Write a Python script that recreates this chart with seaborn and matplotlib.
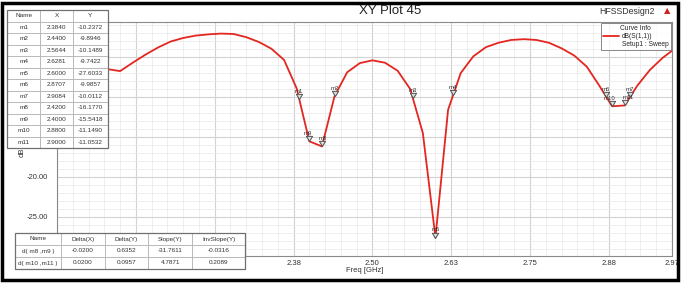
import pandas as pd
import matplotlib
matplotlib.use("Agg")
import matplotlib.pyplot as plt
import seaborn as sns
from matplotlib.path import Path
from matplotlib.lines import Line2D
from matplotlib.patches import Rectangle
from matplotlib.ticker import MultipleLocator, FormatStrFormatter

# sweep points (GHz) and dB(S(1,1))
freq = [2.00, 2.02, 2.04, 2.06, 2.08, 2.10, 2.12, 2.14, 2.16, 2.18,
        2.20, 2.22, 2.24, 2.26, 2.28, 2.30, 2.32, 2.34, 2.36, 2.38,
        2.40, 2.42, 2.44, 2.46, 2.48, 2.50, 2.52, 2.54, 2.56, 2.58,
        2.60, 2.62, 2.64, 2.66, 2.68, 2.70, 2.72, 2.74, 2.76, 2.78,
        2.80, 2.82, 2.84, 2.86, 2.88, 2.90, 2.92, 2.94, 2.96, 2.98]
s11 = [-6.0, -6.1, -6.3, -6.4, -6.5, -6.75, -5.7, -4.7, -3.8, -3.05,
       -2.6, -2.3, -2.15, -2.05, -2.1, -2.5, -3.1, -3.95, -5.35, -8.92,
       -15.54, -16.18, -9.89, -6.9, -5.75, -5.4, -5.7, -6.7, -9.0, -14.5,
       -27.6, -11.6, -7.0, -4.9, -3.75, -3.2, -2.85, -2.75, -2.85, -3.2,
       -3.9, -4.8, -6.2, -8.6, -11.15, -11.05, -8.57, -6.6, -5.1, -3.9]

# marker table
marker_names = ["m1", "m2", "m3", "m4", "m5", "m6", "m7", "m8", "m9", "m10", "m11"]
marker_x = [2.3840, 2.4400, 2.5644, 2.6281, 2.6000, 2.8707, 2.9084, 2.4200, 2.4000, 2.8800, 2.9000]
marker_y = [-10.2372, -9.8946, -10.1489, -9.7422, -27.6033, -9.9857, -10.0112,
            -16.1770, -15.5418, -11.1490, -11.0532]

# delta marker table
delta_names = ["d( m8 ,m9 )", "d( m10 ,m11 )"]
delta_x = [-0.0200, 0.0200]
delta_y = [0.6352, 0.0957]
slope_y = [-31.7611, 4.7871]
inv_slope_y = [-0.0316, 0.2089]

x_ticks = [2.0, 2.125, 2.25, 2.375, 2.5, 2.625, 2.75, 2.875, 2.975]
x_tick_labels = ["2.00", "2.13", "2.25", "2.38", "2.50", "2.63", "2.75", "2.88", "2.97"]

sns.set_style("white")
plt.rcParams["font.family"] = ["Liberation Sans", "DejaVu Sans"]

W, H = 681, 284
fig = plt.figure(figsize=(W / 100, H / 100), dpi=100)
ax = fig.add_axes([57 / W, 1 - 256 / H, 615 / W, 234 / H])

df = pd.DataFrame({"freq": freq, "s11": s11})
red = "#e3261f"
sns.lineplot(data=df, x="freq", y="s11", ax=ax, color=red, lw=1.3,
             sort=False, estimator=None)

# marker triangles with the tip on the point
tri = Path([(-0.6, 1.0), (0.6, 1.0), (0.0, 0.0), (-0.6, 1.0)],
           [Path.MOVETO, Path.LINETO, Path.LINETO, Path.CLOSEPOLY])
mk = pd.DataFrame({"x": marker_x, "y": marker_y, "name": marker_names})
sns.scatterplot(data=mk, x="x", y="y", ax=ax, marker=tri, s=55,
                color="#dcdcdc", edgecolor="#505050", linewidth=0.7, zorder=5)
label_dx = {"m10": -2.2, "m11": 2.6, "m9": -1, "m8": 1}
for name, mx, my in zip(marker_names, marker_x, marker_y):
    ax.annotate(name, (mx, my), xytext=(label_dx.get(name, 0), 3.8),
                textcoords="offset points", ha="center", va="bottom",
                fontsize=4.3, color="#333333", zorder=6)

ax.set_xlim(2.0, 2.975)
ax.set_ylim(-29.9, -0.6)
ax.set_xticks(x_ticks)
ax.set_xticklabels(x_tick_labels)
ax.xaxis.set_minor_locator(MultipleLocator(0.025))
ax.yaxis.set_major_locator(MultipleLocator(5))
ax.yaxis.set_minor_locator(MultipleLocator(1))
ax.yaxis.set_major_formatter(FormatStrFormatter("%.2f"))
ax.grid(which="major", color="#d2d2d2", lw=0.8)
ax.grid(which="minor", color="#ebebeb", lw=0.6)
ax.set_axisbelow(True)
ax.tick_params(which="major", labelsize=5.5, labelcolor="#333333", color="#555555",
               width=0.7)
ax.tick_params(axis="y", which="major", length=5, pad=1.5)
ax.tick_params(axis="x", which="major", length=2, pad=1)
ax.tick_params(which="minor", color="#555555", length=1.5, width=0.6)
ax.tick_params(axis="y", which="minor", length=2.5)
for sp in ax.spines.values():
    sp.set_color("#8a8a8a")
    sp.set_linewidth(0.8)
ax.set_xlabel("Freq [GHz]", fontsize=5.5, color="#333333", labelpad=0)
ax.set_ylabel("dB(S(1,1))", fontsize=5.5, color="#333333", labelpad=1)

handles = [Line2D([], [], color=red, lw=1.3), Line2D([], [], color="none")]
leg = ax.legend(handles, ["dB(S(1,1))", "Setup1 : Sweep"], title="Curve Info",
                loc="upper right", bbox_to_anchor=(1.0, 1.0), fontsize=4.8,
                title_fontsize=4.8, frameon=True, fancybox=False, borderaxespad=0.2,
                handlelength=2.4, handletextpad=0.5, labelspacing=0.15, borderpad=0.3)
leg.get_frame().set_edgecolor("#6a6a6a")
leg.get_frame().set_linewidth(0.7)
leg.set_zorder(10)


def draw_table(rect, header, rows, widths):
    tax = fig.add_axes(rect)
    tax.axis("off")
    tbl = tax.table(cellText=rows, colLabels=header, bbox=[0, 0, 1, 1],
                    cellLoc="center", colWidths=widths)
    tbl.auto_set_font_size(False)
    tbl.set_fontsize(4.6)
    for cell in tbl.get_celld().values():
        cell.set_edgecolor("#b4b4b4")
        cell.set_linewidth(0.6)
        cell.get_text().set_color("#333333")
    tax.add_patch(Rectangle((0, 0), 1, 1, transform=tax.transAxes, fill=False,
                            ec="#707070", lw=0.9, clip_on=False, zorder=5))


rows1 = [[n, f"{x:.4f}", f"{y:.4f}"] for n, x, y in zip(marker_names, marker_x, marker_y)]
draw_table([7 / W, 1 - 148 / H, 101 / W, 138 / H], ["Name", "X", "Y"], rows1,
           [0.33, 0.32, 0.35])

rows2 = [[n, f"{a:.4f}", f"{b:.4f}", f"{c:.4f}", f"{d:.4f}"]
         for n, a, b, c, d in zip(delta_names, delta_x, delta_y, slope_y, inv_slope_y)]
draw_table([15 / W, 1 - 269 / H, 230 / W, 36 / H],
           ["Name", "Delta(X)", "Delta(Y)", "Slope(Y)", "InvSlope(Y)"], rows2,
           [0.2, 0.19, 0.19, 0.19, 0.23])

fig.text(390 / W, 1 - 11 / H, "XY Plot 45", ha="center", va="center", fontsize=9.5,
         color="#222222")
fig.text(627 / W, 1 - 11 / H, "HFSSDesign2", ha="center", va="center", fontsize=6.3,
         color="#333333")
fig.text(667 / W, 1 - 11 / H, "▲", ha="center", va="center", fontsize=6,
         color="#d02020", family="DejaVu Sans")
fig.add_artist(Rectangle((2 / W, 4 / H), 676 / W, 277 / H, transform=fig.transFigure,
                         fill=False, lw=2.5, ec="black"))

fig.savefig("out.png", dpi=100)
